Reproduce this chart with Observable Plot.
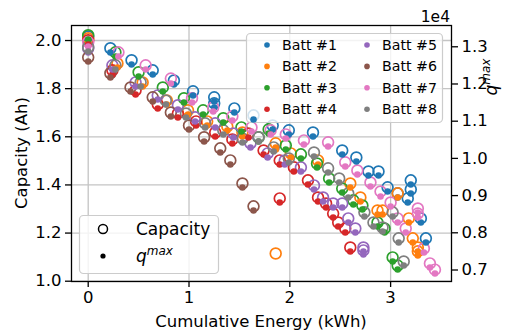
<!DOCTYPE html>
<html><head><meta charset="utf-8">
<script src="https://cdn.jsdelivr.net/npm/d3@7"></script>
<script src="https://cdn.jsdelivr.net/npm/@observablehq/plot@0.6"></script>
<style>
body{margin:0;background:#fff}
#chart{position:relative;width:509px;height:335px;font-family:"DejaVu Sans",sans-serif}
#chart svg{position:absolute;left:0;top:0}
</style>
</head><body><div id="chart"></div>
<script>
const batteries = ["Batt #1","Batt #2","Batt #3","Batt #4","Batt #5","Batt #6","Batt #7","Batt #8"];
const colors = ["#1f77b4","#ff7f0e","#2ca02c","#d62728","#9467bd","#8c564b","#e377c2","#7f7f7f"];
const xTicks = [0,1,2,3];
const capTicks = [1.0,1.2,1.4,1.6,1.8,2.0];
const qTicks = [7000,8000,9000,10000,11000,12000,13000];

// Batt #1
const energy1   = [0.00,0.22,0.43,0.64,0.85,1.04,1.25,1.25,1.45,1.64,1.83,1.99,2.23,2.52,2.66,2.78,2.88,2.97,3.07,3.17,3.20,3.20,3.30,3.35];
const capacity1 = [2.017,1.968,1.918,1.876,1.834,1.789,1.764,1.739,1.718,1.689,1.647,1.627,1.618,1.543,1.514,1.456,1.456,1.390,1.365,1.344,1.419,1.381,1.261,1.178];
const qmax1     = [13169,12847,12524,12255,11987,11691,11530,11368,11234,11046,10777,10642,10589,10105,9917,9540,9540,9110,8949,8814,9298,9056,8277,7739];
// Batt #2
const energy2   = [0.00,0.29,0.54,0.78,0.99,1.18,1.38,1.53,1.86,1.86,2.01,2.28,2.60,2.70,2.87,2.92,3.07,3.18,3.22,3.27,3.27];
const capacity2 = [2.009,1.905,1.826,1.751,1.710,1.664,1.643,1.618,1.573,1.115,1.531,1.502,1.406,1.348,1.294,1.294,1.365,1.261,1.178,1.140,1.124];
const qmax2     = [13115,12444,11933,11449,11180,10884,10750,10589,10293,10240,10024,9836,9218,8841,8492,8492,8949,8277,7739,7497,7390];
// Batt #3
const energy3   = [0.00,0.27,0.50,0.74,0.95,1.14,1.34,1.52,1.69,1.79,1.96,2.11,2.27,2.39,2.52,2.63,2.72,2.87,2.94,3.02,3.07];
const capacity3 = [2.022,1.951,1.868,1.805,1.760,1.710,1.677,1.639,1.598,1.631,1.564,1.527,1.489,1.427,1.385,1.336,1.315,1.244,1.219,1.099,1.065];
const qmax3     = [13196,12739,12201,11798,11503,11180,10965,10723,10454,10669,10239,9997,9755,9352,9083,8761,8626,8169,8008,7228,7013];
// Batt #4
const energy4   = [0.00,0.24,0.47,0.69,0.89,1.07,1.26,1.43,1.59,1.74,1.90,1.90,2.04,2.18,2.28,2.36,2.43,2.48,2.55,2.60];
const capacity4 = [2.001,1.876,1.793,1.735,1.697,1.664,1.618,1.589,1.614,1.543,1.502,1.344,1.473,1.419,1.348,1.323,1.281,1.244,1.219,1.140];
const qmax4     = [13062,12255,11718,11341,11099,10884,10589,10400,10562,10105,9836,8814,9648,9298,8841,8680,8411,8169,8008,7497];
// Batt #5
const energy5   = [0.00,0.24,0.47,0.69,0.89,1.06,1.26,1.44,1.61,1.78,1.95,2.11,2.24,2.33,2.43,2.52,2.58,2.65,2.73,2.73];
const capacity5 = [1.968,1.897,1.826,1.772,1.731,1.681,1.656,1.614,1.573,1.531,1.502,1.473,1.398,1.348,1.323,1.323,1.261,1.219,1.140,1.128];
const qmax5     = [12847,12390,11933,11583,11315,10992,10831,10562,10293,10024,9836,9648,9164,8841,8680,8680,8277,8008,7497,7417];
// Batt #6
const energy6   = [0.00,0.22,0.42,0.64,0.82,1.00,1.15,1.31,1.41,1.53,1.64];
const capacity6 = [1.930,1.864,1.805,1.764,1.701,1.647,1.598,1.552,1.502,1.406,1.311];
const qmax6     = [12605,12175,11798,11530,11126,10777,10454,10159,9836,9218,8599];
// Batt #7
const energy7   = [0.00,0.30,0.57,0.82,1.03,1.24,1.43,1.62,1.81,1.96,2.14,2.38,2.55,2.67,2.80,2.90,3.00,3.07,3.15,3.27,3.27,3.33,3.39,3.44];
const capacity7 = [1.993,1.951,1.897,1.842,1.760,1.722,1.685,1.639,1.627,1.610,1.585,1.577,1.494,1.460,1.410,1.373,1.327,1.261,1.219,1.302,1.281,1.136,1.074,1.048];
const qmax7     = [13008,12739,12390,12013,11503,11261,11019,10723,10642,10535,10373,10320,9782,9567,9245,8976,8707,8277,8008,8546,8411,7470,7067,6906];
// Batt #8
const energy8   = [0.00,0.27,0.52,0.77,0.97,1.16,1.34,1.53,1.69,1.84,1.99,2.24,2.38,2.49,2.58,2.74,2.83,2.92,3.02,3.08,3.13];
const capacity8 = [1.972,1.897,1.826,1.751,1.697,1.656,1.627,1.593,1.598,1.556,1.510,1.535,1.469,1.427,1.365,1.286,1.244,1.223,1.286,1.178,1.082];
const qmax8     = [12873,12390,11933,11449,11099,10831,10642,10427,10454,10185,9890,10051,9621,9352,8949,8438,8169,8035,8438,7739,7121];

const series = [
  [energy1,capacity1,qmax1],[energy2,capacity2,qmax2],[energy3,capacity3,qmax3],[energy4,capacity4,qmax4],
  [energy5,capacity5,qmax5],[energy6,capacity6,qmax6],[energy7,capacity7,qmax7],[energy8,capacity8,qmax8]
];
const data = [];
series.forEach(([e,c,q],b) => e.forEach((v,i) => data.push({batt: batteries[b], E: v, C: c[i], Q: q[i]})));

const W = 509, H = 335, mL = 71, mR = 58, mT = 25, mB = 54;
const xDomain = [-0.1657, 3.604];
const font = "DejaVu Sans";
const color = {domain: batteries, range: colors};

const chart = document.getElementById("chart");

const p1 = Plot.plot({
  width: W, height: H, marginLeft: mL, marginRight: mR, marginTop: mT, marginBottom: mB,
  style: {fontFamily: font, fontSize: "16.5px", color: "#000", background: "transparent", overflow: "visible"},
  x: {domain: xDomain},
  y: {domain: [0.9988, 2.0624]},
  color,
  marks: [
    Plot.gridX({ticks: xTicks, stroke: "#c4c4c4", strokeOpacity: 1, strokeWidth: 1.3}),
    Plot.gridY({ticks: capTicks, stroke: "#c4c4c4", strokeOpacity: 1, strokeWidth: 1.3}),
    Plot.axisX({ticks: xTicks, tickFormat: d3.format("d"), tickSize: 6, tickPadding: 4, strokeWidth: 1.3, label: null, fontSize: 16.5}),
    Plot.axisY({ticks: capTicks, tickFormat: d3.format(".1f"), tickSize: 6, tickPadding: 4, strokeWidth: 1.3, label: null, fontSize: 16.5}),
    Plot.dot(data, {x: "E", y: "C", stroke: "batt", fill: "none", r: 5.4, strokeWidth: 1.7})
  ]
});
chart.appendChild(p1);

// Legend for batteries (drawn above capacity circles, below q^max dots)
const leg1 = d3.select(chart).append("svg").attr("width", W).attr("height", H);
leg1.append("rect").attr("x", 246.5).attr("y", 33.5).attr("width", 196).attr("height", 89).attr("rx", 4)
  .attr("fill", "white").attr("fill-opacity", 0.8).attr("stroke", "#cccccc").attr("stroke-width", 1.2);
batteries.forEach((b, i) => {
  const col = Math.floor(i / 4), row = i % 4;
  const cx = 267 + col * 100, cy = 45 + row * 21.4;
  leg1.append("circle").attr("cx", cx).attr("cy", cy).attr("r", 2.8).attr("fill", colors[i]);
  leg1.append("text").attr("x", cx + 15).attr("y", cy).attr("dy", "0.35em")
    .attr("font-family", font).attr("font-size", 14.2).attr("fill", "#000").text(b);
});

const p2 = Plot.plot({
  width: W, height: H, marginLeft: mL, marginRight: mR, marginTop: mT, marginBottom: mB,
  style: {fontFamily: font, fontSize: "16.5px", color: "#000", background: "transparent", overflow: "visible"},
  x: {domain: xDomain, axis: null},
  y: {domain: [6691, 13572]},
  color,
  marks: [
    Plot.dot(data, {x: "E", y: "Q", fill: "batt", r: 3.3}),
    Plot.axisY({anchor: "right", ticks: qTicks, tickFormat: d => (d / 1e4).toFixed(1), tickSize: 6, tickPadding: 4, strokeWidth: 1.3, label: null, fontSize: 16.5}),
    Plot.frame({stroke: "#000", strokeWidth: 1.3})
  ]
});
chart.appendChild(p2);

// Overlay: axis labels, offset text, q^max legend
const ov = d3.select(chart).append("svg").attr("width", W).attr("height", H);
ov.append("text").attr("x", 261).attr("y", 321).attr("dy", "0.35em").attr("text-anchor", "middle")
  .attr("font-family", font).attr("font-size", 16.5).text("Cumulative Energy (kWh)");
ov.append("text").attr("transform", "translate(21,153) rotate(-90)").attr("dy", "0.35em").attr("text-anchor", "middle")
  .attr("font-family", font).attr("font-size", 16.5).text("Capacity (Ah)");
ov.append("text").attr("x", 450).attr("y", 22).attr("text-anchor", "end")
  .attr("font-family", font).attr("font-size", 15.5).text("1e4");
const ql = ov.append("text").attr("transform", "translate(497,77) rotate(-90)").attr("text-anchor", "middle")
  .attr("font-family", font).attr("font-style", "italic").attr("font-size", 17);
ql.append("tspan").text("q");
ql.append("tspan").attr("font-size", 12).attr("dy", -7).text("max");

ov.append("rect").attr("x", 79.5).attr("y", 215.5).attr("width", 139).attr("height", 58).attr("rx", 4)
  .attr("fill", "white").attr("fill-opacity", 0.8).attr("stroke", "#cccccc").attr("stroke-width", 1.2);
ov.append("circle").attr("cx", 103).attr("cy", 229).attr("r", 4.5).attr("fill", "none").attr("stroke", "#000").attr("stroke-width", 1.5);
ov.append("circle").attr("cx", 103).attr("cy", 256).attr("r", 2.6).attr("fill", "#000");
ov.append("text").attr("x", 136).attr("y", 229).attr("dy", "0.35em").attr("font-family", font).attr("font-size", 17).text("Capacity");
const qt = ov.append("text").attr("x", 136).attr("y", 256).attr("dy", "0.35em").attr("font-family", font).attr("font-style", "italic").attr("font-size", 17);
qt.append("tspan").text("q");
qt.append("tspan").attr("font-size", 12).attr("dy", -7).text("max");
</script>
</body></html>
